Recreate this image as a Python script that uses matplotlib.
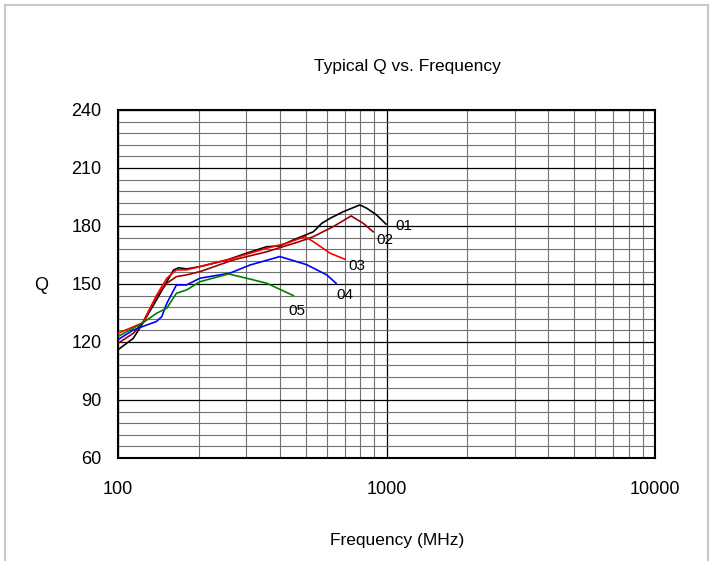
import matplotlib.pyplot as plt
from matplotlib.patches import Rectangle
from matplotlib.ticker import LogLocator, MultipleLocator, FixedLocator, NullFormatter

plt.rcParams['font.family'] = ['Liberation Sans', 'DejaVu Sans']

# Q curves per part number, frequency in MHz
f01 = [100, 114, 124, 139, 152, 161, 168, 180, 202, 254, 301, 358, 401, 450, 534, 574, 617, 690, 796, 844, 919, 995]
q01 = [116, 121.9, 130, 141.7, 151.2, 157.2, 158.4, 157.8, 159, 162.4, 165.9, 169.3, 169.7, 172.8, 177, 181.4, 184, 187.4, 190.9, 189.2, 185.7, 181]

f02 = [100, 114, 124, 139, 152, 165, 180, 202, 268, 358, 476, 534, 634, 738, 819, 892]
q02 = [119.3, 124.5, 130.5, 143.5, 150.4, 153.8, 154.7, 156.4, 162.4, 166.7, 172, 174.5, 179.7, 185.2, 181.4, 177]

f03 = [100, 124, 139, 152, 165, 180, 202, 268, 358, 425, 497, 534, 617, 700]
q03 = [124.5, 130, 144, 153, 157.3, 157.3, 159, 163.3, 168.5, 171.1, 174.5, 171.9, 165.9, 162.8]

f04 = [100, 114, 128, 139, 145.5, 152, 165, 180, 202, 261, 310, 401, 504, 599, 649]
q04 = [121.2, 126.2, 128.8, 130.6, 133.1, 140, 149.5, 149.5, 153, 155.6, 159.8, 164.2, 160, 154.7, 150.4]

f05 = [100, 124, 139, 152, 165, 180, 202, 258, 301, 358, 450]
q05 = [122.8, 130, 134.8, 137.5, 145.2, 146.9, 151.2, 155.2, 153, 150.4, 144]

names = ['01', '02', '03', '04', '05']
colors = ['black', '#990000', '#ff0000', '#0000ff', '#008000']
# label placement next to each curve's last point (pixels)
label_offsets = [(9, -2), (3, -1), (3, 0), (0, -5), (-5, -8)]
label_va = ['center', 'top', 'top', 'top', 'top']

fig = plt.figure(figsize=(7.13, 5.61), dpi=100)
fig.patches.append(Rectangle((5 / 713, -0.05), 703 / 713, 1.05 - 5 / 561,
                             transform=fig.transFigure, fill=False,
                             edgecolor='#c8c8c8', linewidth=1.5))
ax = fig.add_axes([118 / 713, 1 - 458 / 561, 537 / 713, 348 / 561])

for f, q, name, c, off, va in zip([f01, f02, f03, f04, f05], [q01, q02, q03, q04, q05],
                                  names, colors, label_offsets, label_va):
    ax.plot(f, q, color=c, lw=1.2, zorder=3)
    ax.annotate(name, (f[-1], q[-1]), xytext=off, textcoords='offset pixels',
                ha='left', va=va, fontsize=11)

ax.set_xscale('log')
ax.set_xlim(100, 10000)
ax.set_ylim(60, 240)
ax.xaxis.set_major_locator(FixedLocator([100, 1000, 10000]))
ax.xaxis.set_major_formatter(plt.FuncFormatter(lambda v, p: '%d' % v))
ax.xaxis.set_minor_locator(LogLocator(base=10, subs=range(2, 10)))
ax.xaxis.set_minor_formatter(NullFormatter())
ax.yaxis.set_major_locator(MultipleLocator(30))
ax.yaxis.set_minor_locator(MultipleLocator(6))

ax.grid(which='major', color='black', lw=0.9)
ax.grid(which='minor', color='#707070', lw=0.8)
ax.tick_params(which='both', length=0, labelsize=13)
ax.tick_params(axis='x', pad=16.5)
ax.tick_params(axis='y', pad=12)
for s in ax.spines.values():
    s.set_linewidth(1.5)

fig.text(407 / 713, 1 - 66 / 561, 'Typical Q vs. Frequency', ha='center', va='center', fontsize=12.5)
fig.text(397 / 713, 1 - 541 / 561, 'Frequency (MHz)', ha='center', va='center', fontsize=12.5)
fig.text(41 / 713, 1 - 285 / 561, 'Q', ha='center', va='center', fontsize=13)

fig.savefig('out.png', dpi=100)
